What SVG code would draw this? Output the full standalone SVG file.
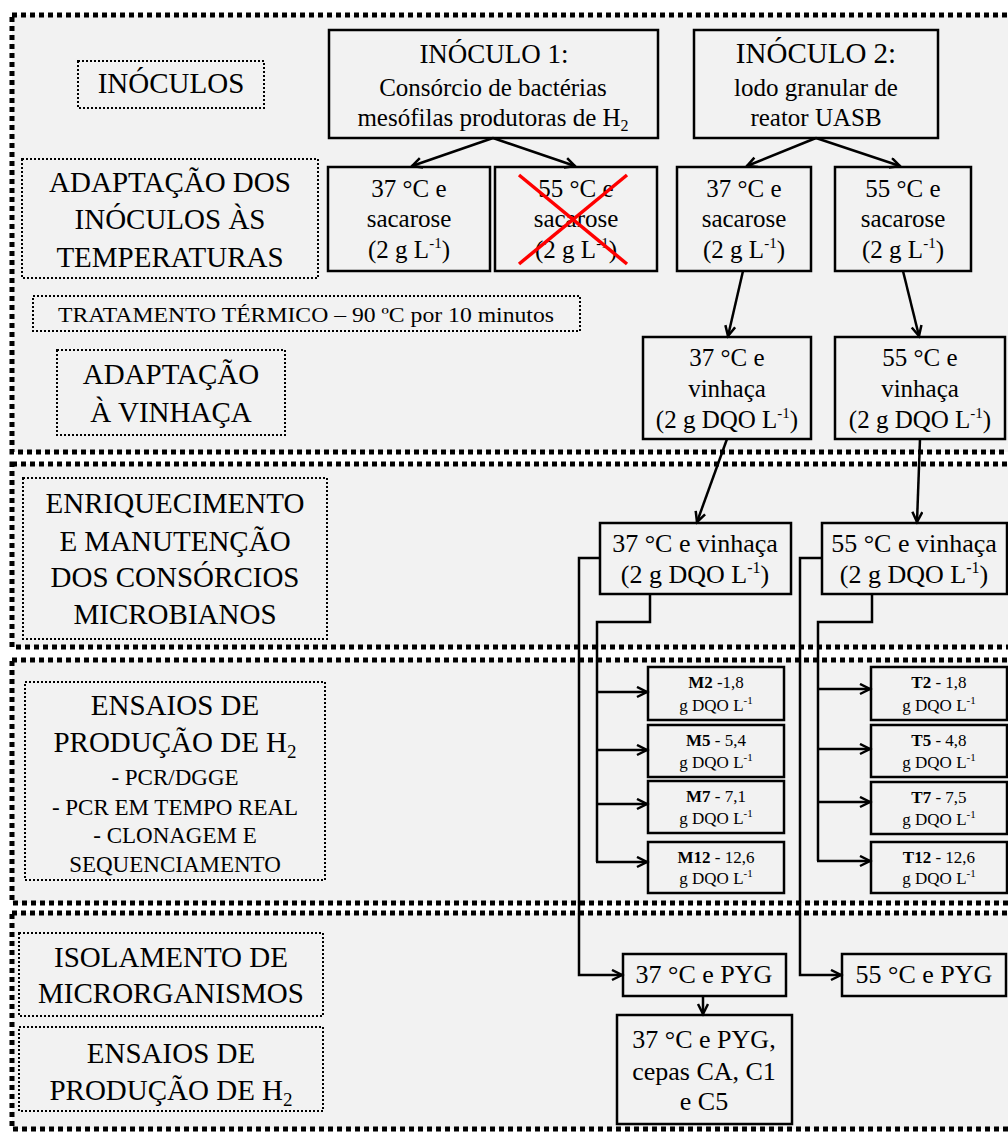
<svg xmlns="http://www.w3.org/2000/svg" width="1008" height="1135" viewBox="0 0 1008 1135">
<defs>
<style>
.sec{fill:#f2f2f2;stroke:#000;stroke-width:5;stroke-dasharray:5 4}
.lab{fill:none;stroke:#000;stroke-width:2;stroke-dasharray:2 2}
.box{fill:none;stroke:#000;stroke-width:2.5}
.t{font-family:"Liberation Serif","Times New Roman",serif;fill:#000;text-anchor:middle}
.big{font-size:29px}
.mid{font-size:25px}
.sm{font-size:17px}
.conn{fill:none;stroke:#000;stroke-width:2.5}
.x{stroke:#ff0000;stroke-width:3.5}
</style>
<marker id="arr" markerUnits="userSpaceOnUse" markerWidth="14" markerHeight="14" refX="11" refY="6" orient="auto">
<path d="M1,1 L11,6 L1,11" fill="none" stroke="#000" stroke-width="2.5"/>
</marker>
</defs>
<rect width="1008" height="1135" fill="#fff"/>
<g id="sections">
<rect class="sec" x="12" y="15" width="1020" height="437"/>
<rect class="sec" x="12" y="464" width="1020" height="183"/>
<rect class="sec" x="12" y="660" width="1020" height="243"/>
<rect class="sec" x="12" y="913" width="1020" height="216"/>
</g>
<g id="label-inoculos">
<rect class="lab" x="78" y="61" width="186" height="47"/>
<text class="t big" x="171" y="93">INÓCULOS</text>
</g>
<g id="label-adaptacao-temp">
<rect class="lab" x="22" y="159" width="296" height="119"/>
<text class="t big" x="170" y="192">ADAPTAÇÃO DOS</text>
<text class="t big" x="170" y="229">INÓCULOS ÀS</text>
<text class="t big" x="170" y="267">TEMPERATURAS</text>
</g>
<g id="label-tratamento">
<rect class="lab" x="33" y="296" width="547" height="35"/>
<text class="t" x="306" y="322" font-size="22" textLength="496" lengthAdjust="spacingAndGlyphs">TRATAMENTO TÉRMICO – 90 ºC por 10 minutos</text>
</g>
<g id="label-adaptacao-vinhaca">
<rect class="lab" x="57" y="350" width="228" height="85"/>
<text class="t big" x="171" y="384">ADAPTAÇÃO</text>
<text class="t big" x="171" y="422">À VINHAÇA</text>
</g>
<g id="label-enriquecimento">
<rect class="lab" x="23" y="478" width="304" height="161"/>
<text class="t big" x="175" y="513">ENRIQUECIMENTO</text>
<text class="t big" x="175" y="551">E MANUTENÇÃO</text>
<text class="t big" x="175" y="587">DOS CONSÓRCIOS</text>
<text class="t big" x="175" y="624">MICROBIANOS</text>
</g>
<g id="label-ensaios">
<rect class="lab" x="25" y="682" width="300" height="198"/>
<text class="t big" x="175" y="715">ENSAIOS DE</text>
<text class="t big" x="175" y="752">PRODUÇÃO DE H<tspan font-size="19" dy="6">2</tspan></text>
<text class="t" font-size="23" x="175" y="785">- PCR/DGGE</text>
<text class="t" font-size="23" x="175" y="815">- PCR EM TEMPO REAL</text>
<text class="t" font-size="23" x="175" y="843">- CLONAGEM E</text>
<text class="t" font-size="23" x="175" y="872">SEQUENCIAMENTO</text>
</g>
<g id="label-isolamento">
<rect class="lab" x="19" y="933" width="304" height="83"/>
<text class="t big" x="171" y="967">ISOLAMENTO DE</text>
<text class="t big" x="171" y="1003">MICRORGANISMOS</text>
</g>
<g id="label-ensaios2">
<rect class="lab" x="19" y="1027" width="304" height="84"/>
<text class="t big" x="171" y="1063">ENSAIOS DE</text>
<text class="t big" x="171" y="1100">PRODUÇÃO DE H<tspan font-size="19" dy="6">2</tspan></text>
</g>
<g id="inoculo1">
<rect class="box" x="329" y="30" width="329" height="108"/>
<text class="t" font-size="27" x="494" y="63">INÓCULO 1:</text>
<text class="t mid" x="493" y="96">Consórcio de bactérias</text>
<text class="t mid" x="493" y="126">mesófilas produtoras de H<tspan font-size="16" dy="5">2</tspan></text>
</g>
<g id="inoculo2">
<rect class="box" x="694" y="30" width="244" height="108"/>
<text class="t" font-size="29" x="816" y="63">INÓCULO 2:</text>
<text class="t mid" x="816" y="96">lodo granular de</text>
<text class="t mid" x="816" y="126">reator UASB</text>
</g>
<g id="n37sac1">
<rect class="box" x="328" y="167" width="162" height="104"/>
<text class="t mid" x="409" y="197">37 °C e</text>
<text class="t mid" x="409" y="227">sacarose</text>
<text class="t mid" x="409" y="258">(2 g L<tspan font-size="15" dy="-10">-1</tspan><tspan dy="10">)</tspan></text>
</g>
<g id="n55sac1">
<rect class="box" x="495" y="167" width="162" height="104"/>
<text class="t mid" x="576" y="197">55 °C e</text>
<text class="t mid" x="576" y="227">sacarose</text>
<text class="t mid" x="576" y="258">(2 g L<tspan font-size="15" dy="-10">-1</tspan><tspan dy="10">)</tspan></text>
<line class="x" x1="519" y1="175" x2="627" y2="264"/>
<line class="x" x1="627" y1="175" x2="519" y2="264"/>
</g>
<g id="n37sac2">
<rect class="box" x="677" y="167" width="134" height="104"/>
<text class="t mid" x="744" y="197">37 °C e</text>
<text class="t mid" x="744" y="227">sacarose</text>
<text class="t mid" x="744" y="258">(2 g L<tspan font-size="15" dy="-10">-1</tspan><tspan dy="10">)</tspan></text>
</g>
<g id="n55sac2">
<rect class="box" x="835" y="167" width="136" height="104"/>
<text class="t mid" x="903" y="197">55 °C e</text>
<text class="t mid" x="903" y="227">sacarose</text>
<text class="t mid" x="903" y="258">(2 g L<tspan font-size="15" dy="-10">-1</tspan><tspan dy="10">)</tspan></text>
</g>
<g id="n37vin">
<rect class="box" x="643" y="337" width="168" height="102"/>
<text class="t mid" x="727" y="366">37 °C e</text>
<text class="t mid" x="727" y="397">vinhaça</text>
<text class="t mid" x="727" y="428">(2 g DQO L<tspan font-size="15" dy="-10">-1</tspan><tspan dy="10">)</tspan></text>
</g>
<g id="n55vin">
<rect class="box" x="835" y="337" width="170" height="102"/>
<text class="t mid" x="920" y="366">55 °C e</text>
<text class="t mid" x="920" y="397">vinhaça</text>
<text class="t mid" x="920" y="428">(2 g DQO L<tspan font-size="15" dy="-10">-1</tspan><tspan dy="10">)</tspan></text>
</g>
<g id="n37enr">
<rect class="box" x="600" y="523" width="191" height="71"/>
<text class="t" font-size="26" x="695" y="552">37 °C e vinhaça</text>
<text class="t" font-size="26" x="695" y="583">(2 g DQO L<tspan font-size="16" dy="-10">-1</tspan><tspan dy="10">)</tspan></text>
</g>
<g id="n55enr">
<rect class="box" x="822" y="523" width="185" height="71"/>
<text class="t" font-size="26" x="914" y="552">55 °C e vinhaça</text>
<text class="t" font-size="26" x="914" y="583">(2 g DQO L<tspan font-size="16" dy="-10">-1</tspan><tspan dy="10">)</tspan></text>
</g>
<g id="M2">
<rect class="box" x="648" y="667" width="136" height="53"/>
<text class="t sm" x="716" y="688"><tspan font-weight="bold">M2</tspan> -1,8</text>
<text class="t sm" x="716" y="711">g DQO L<tspan font-size="11" dy="-7">-1</tspan></text>
</g>
<g id="M5">
<rect class="box" x="648" y="725" width="136" height="52"/>
<text class="t sm" x="716" y="746"><tspan font-weight="bold">M5</tspan> - 5,4</text>
<text class="t sm" x="716" y="768">g DQO L<tspan font-size="11" dy="-7">-1</tspan></text>
</g>
<g id="M7">
<rect class="box" x="648" y="781" width="136" height="52"/>
<text class="t sm" x="716" y="802"><tspan font-weight="bold">M7</tspan> - 7,1</text>
<text class="t sm" x="716" y="824">g DQO L<tspan font-size="11" dy="-7">-1</tspan></text>
</g>
<g id="M12">
<rect class="box" x="648" y="842" width="136" height="51"/>
<text class="t sm" x="716" y="863"><tspan font-weight="bold">M12</tspan> - 12,6</text>
<text class="t sm" x="716" y="884">g DQO L<tspan font-size="11" dy="-7">-1</tspan></text>
</g>
<g id="T2">
<rect class="box" x="871" y="667" width="136" height="53"/>
<text class="t sm" x="939" y="688"><tspan font-weight="bold">T2</tspan> - 1,8</text>
<text class="t sm" x="939" y="711">g DQO L<tspan font-size="11" dy="-7">-1</tspan></text>
</g>
<g id="T5">
<rect class="box" x="871" y="725" width="136" height="52"/>
<text class="t sm" x="939" y="746"><tspan font-weight="bold">T5</tspan> - 4,8</text>
<text class="t sm" x="939" y="768">g DQO L<tspan font-size="11" dy="-7">-1</tspan></text>
</g>
<g id="T7">
<rect class="box" x="871" y="782" width="136" height="52"/>
<text class="t sm" x="939" y="803"><tspan font-weight="bold">T7</tspan> - 7,5</text>
<text class="t sm" x="939" y="825">g DQO L<tspan font-size="11" dy="-7">-1</tspan></text>
</g>
<g id="T12">
<rect class="box" x="871" y="842" width="136" height="51"/>
<text class="t sm" x="939" y="863"><tspan font-weight="bold">T12</tspan> - 12,6</text>
<text class="t sm" x="939" y="884">g DQO L<tspan font-size="11" dy="-7">-1</tspan></text>
</g>
<g id="pyg37">
<rect class="box" x="623" y="954" width="163" height="42"/>
<text class="t" font-size="26" x="704" y="983">37 °C e PYG</text>
</g>
<g id="pyg55">
<rect class="box" x="842" y="954" width="164" height="42"/>
<text class="t" font-size="26" x="924" y="983">55 °C e PYG</text>
</g>
<g id="pyg37cepas">
<rect class="box" x="617" y="1015" width="175" height="109"/>
<text class="t" font-size="26" x="704" y="1048">37 °C e PYG,</text>
<text class="t" font-size="26" x="704" y="1080">cepas CA, C1</text>
<text class="t" font-size="26" x="704" y="1110">e C5</text>
</g>
<g id="connectors">
<line class="conn" x1="493" y1="138" x2="412" y2="166" marker-end="url(#arr)"/>
<line class="conn" x1="493" y1="138" x2="575" y2="166" marker-end="url(#arr)"/>
<line class="conn" x1="816" y1="138" x2="747" y2="166" marker-end="url(#arr)"/>
<line class="conn" x1="816" y1="138" x2="900" y2="166" marker-end="url(#arr)"/>
<line class="conn" x1="743" y1="271" x2="728" y2="336" marker-end="url(#arr)"/>
<line class="conn" x1="903" y1="271" x2="919" y2="336" marker-end="url(#arr)"/>
<line class="conn" x1="727" y1="439" x2="697" y2="522" marker-end="url(#arr)"/>
<line class="conn" x1="920" y1="439" x2="917" y2="522" marker-end="url(#arr)"/>
<polyline class="conn" points="600,558 579,558 579,975 622,975" marker-end="url(#arr)"/>
<polyline class="conn" points="650,594 650,622 597,622 597,862"/>
<line class="conn" x1="597" y1="692" x2="647" y2="692" marker-end="url(#arr)"/>
<line class="conn" x1="597" y1="750" x2="647" y2="750" marker-end="url(#arr)"/>
<line class="conn" x1="597" y1="804" x2="647" y2="804" marker-end="url(#arr)"/>
<line class="conn" x1="596" y1="862" x2="647" y2="862" marker-end="url(#arr)"/>
<polyline class="conn" points="822,558 800,558 800,975 841,975" marker-end="url(#arr)"/>
<polyline class="conn" points="872,594 872,622 818,622 818,861"/>
<line class="conn" x1="818" y1="689" x2="870" y2="689" marker-end="url(#arr)"/>
<line class="conn" x1="818" y1="749" x2="870" y2="749" marker-end="url(#arr)"/>
<line class="conn" x1="818" y1="802" x2="870" y2="802" marker-end="url(#arr)"/>
<line class="conn" x1="817" y1="861" x2="870" y2="861" marker-end="url(#arr)"/>
<line class="conn" x1="703" y1="996" x2="703" y2="1014" marker-end="url(#arr)"/>
</g>
</svg>
